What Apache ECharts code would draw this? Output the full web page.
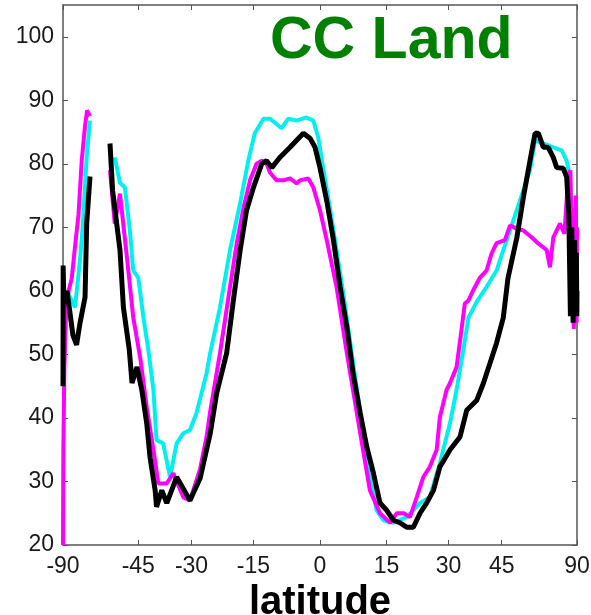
<!DOCTYPE html>
<html>
<head>
<meta charset="utf-8">
<script src="https://cdn.jsdelivr.net/npm/echarts@6/dist/echarts.min.js"></script>
<style>
    html, body { margin: 0; padding: 0; background: #fff; }
    #main { width: 591px; height: 615px; }
</style>
</head>
<body>
<div id="main"></div>
<script>
// tick labels
var xTicks = [-90, -45, -30, -15, 0, 15, 30, 45, 90];
var yTicks = [20, 30, 40, 50, 60, 70, 80, 90, 100];

// cyan curve (latitude, value), null = gap
var cyanLat = [-84, -80, -76.6, -72.4, -69, -67.3, -65.2, -63.5, -60, -53,
    -51.1, -49.4, -47.7, -46.6, -45, -43.4, -41.9, -40.4, -39.5, -37.6,
    -35.7, -33.9, -32.1, -30.4, -28.7, -26.2, -25.3, -22.9, -20.5, -18.1,
    -16.2, -14.7, -12.7, -11.2, -8.6, -7.1, -5.2, -3, -1.5, -0.4,
    0.7, 2.2, 3.7, 5.2, 6.7, 8.2, 9.7, 11.2, 12.7, 14.3,
    16.6, 19.7, 22.9, 25.3, 27.8, 30.4, 32.1, 33.9, 35.3, 37.6,
    40.4, 43.4, 45.5, 48.8, 52.3, 54.8, 56.8, 60.3, 65.2, 70.1,
    73.7, 76.6, 80, 85, 90];
var cyanVal = [58, 60, 59, 57.4, 65, 70.6, 81, 86.8, null, 81,
    77, 76.3, 69.5, 63.2, 62.1, 55.8, 50.7, 44.4, 36.5, 36,
    30.7, 36, 37.6, 38.1, 40.8, 47, 50.2, 57.4, 66.4, 73.8,
    80.5, 84.8, 87.1, 87.1, 85.6, 87.1, 86.8, 87.3, 86.8, 84.2,
    79.4, 73.1, 66.4, 59.6, 52.2, 44.8, 37.6, 31.3, 25.5, 23.9,
    23.5, 24.4, 26.6, 27.5, 32.9, 39.2, 44.4, 50.7, 55.8, 58.3,
    60.6, 63.2, 66.4, 71.1, 75.8, 79, 83.7, 83.2, 82.6, 82.1,
    80.5, 77.9, 70, 60, 57];

// magenta curve
var magentaLat = [-90, -87, -84, -81, -78, -75, -72.4, -70, -68, -66.1,
    -65, -63.5, -60, -54.8, -53, -51.1, -48.7, -46.6, -44.4, -42.4,
    -40.4, -39, -36.6, -34.8, -32.1, -30.4, -27.8, -26.2, -25.3, -22.9,
    -20.5, -18.9, -17.3, -15.8, -14.3, -13.1, -12, -11.2, -9.7, -8.2,
    -6.7, -5.2, -4.5, -2.6, -1.5, 0, 1.5, 3.7, 6, 9,
    11.2, 13.5, 15.8, 17.4, 19, 20.5, 22.1, 23.7, 25.3, 27,
    27.8, 29.5, 30.4, 32.1, 33.5, 34.3, 35.3, 36.6, 38.5, 40.4,
    41.9, 43.4, 46, 47.7, 50, 52.3, 55.5, 58, 60.2, 61.9,
    63.5, 65.2, 69, 72, 75, 77, 79, 81, 84, 87,
    90];
var magentaVal = [20, 35, 48, 57, 60, 62, 67, 72, 80.5, 86,
    88.4, 87.5, null, 79, 70.6, 75.3, 65.3, 55.8, 49.5, 41.7,
    35, 29.7, 29.7, 31.3, 27.5, 27, 32, 37, 41, 50.2,
    60.6, 67.5, 73.1, 77.4, 80, 80.5, 80, 78.6, 77.4, 77.4,
    77.7, 76.9, 77.4, 77.7, 76.3, 72.7, 68, 60.6, 50.2, 37.6,
    28.6, 25, 23.5, 25, 25, 24.4, 27.5, 30.7, 32.3, 35,
    40.1, 44.4, 45.5, 48, 54.3, 58, 58.5, 60.1, 62.1, 63.2,
    65.9, 67.5, 68, 70.3, 69.8, 69.5, 68.4, 67.5, 66.9, 66.4,
    63.7, 68.4, 70.6, 69, 78, 79, 60, 54, 75, 55,
    70];

// black curve
var blackLat = [-90, -88, -86, -83, -80, -77, -74, -71.3, -69, -66.1,
    -65.2, -63.5, -60, -54.8, -53.8, -51.1, -49.9, -47.9, -47, -45.4,
    -43.9, -42.4, -41.4, -39.9, -39.5, -38, -36.6, -33.9, -30.4, -27.8,
    -25.3, -23.7, -21.3, -19.7, -18.1, -16.6, -15, -13.1, -12, -10.8,
    -9, -6.7, -5.2, -3.7, -2.2, -1.1, 0, 1.5, 3, 4.5,
    6, 7.4, 9, 10.5, 12, 13.5, 15, 16.6, 18.1, 19.7,
    21.3, 22.9, 24.5, 26.2, 27.8, 30.4, 33, 34.8, 37.6, 39.5,
    41.4, 43.4, 45.5, 47, 50, 52.3, 54.8, 56.8, 58.2, 60.3,
    62.6, 65.2, 67.1, 71.2, 73.7, 75.5, 77, 78.5, 80, 82,
    84, 86, 88, 90];
var blackVal = [45, 64, 60, 58, 60, 57, 53, 51.5, 55, 59,
    70.6, 78, null, 83.2, 75.8, 66.4, 57.4, 50.7, 45.5, 48,
    44.4, 39.2, 33.8, 28.6, 26, 28.6, 26.6, 30.7, 27, 30.5,
    37.5, 43.9, 50.2, 58.5, 66.4, 72.7, 76.3, 80, 80.5, 79.4,
    81, 82.6, 83.7, 84.8, 84, 82.6, 79.4, 74.2, 68, 60.6,
    54.3, 47, 40.8, 35.4, 31.3, 26.6, 25.5, 23.9, 23.5, 22.8,
    22.8, 25, 26.6, 28.6, 32.3, 35, 37, 41.2, 42.8, 45.5,
    48.6, 51.8, 55.8, 62, 68.4, 74.7, 80.5, 84.8, 84.8, 82.6,
    82.6, 81, 79.4, 79.3, 77.9, 72, 56, 70, 55, 68,
    57, 66, 56, 60];

// x axis is area weighted: position = sin(latitude)
function sinLat(d) {
    return Math.sin(d * Math.PI / 180);
}
function toPoints(lat, val) {
    return lat.map(function (d, i) {
        return [sinLat(d), val[i] === null ? '-' : val[i]];
    });
}

var frameColor = '#555';
var labelFont = {
    color: '#1a1a1a',
    fontSize: 23,
    fontFamily: 'Liberation Sans, Arial, sans-serif'
};
var xTickPos = xTicks.map(sinLat);
var frameLine = { show: true, onZero: false, lineStyle: { color: frameColor, width: 1.5 } };

var myChart = echarts.init(document.getElementById('main'));

var option = {
    animation: false,
    backgroundColor: '#fff',
    title: {
        text: 'CC Land',
        left: 265,
        top: 7,
        textStyle: {
            color: '#008000',
            fontSize: 59,
            fontWeight: 'bold',
            fontFamily: 'Liberation Sans, Arial, sans-serif'
        }
    },
    grid: {
        left: 63,
        right: 14,
        top: 5,
        bottom: 70,
        containLabel: false,
        outerBoundsMode: 'none'
    },
    xAxis: [
        {
            type: 'value',
            position: 'bottom',
            min: -1,
            max: 1,
            axisLine: frameLine,
            axisTick: { show: true, inside: true, length: 5, customValues: xTickPos, lineStyle: { color: frameColor } },
            axisLabel: {
                customValues: xTickPos,
                margin: 10,
                color: labelFont.color,
                fontSize: labelFont.fontSize,
                fontFamily: labelFont.fontFamily,
                formatter: function (v) {
                    return Math.round(Math.asin(Math.max(-1, Math.min(1, v))) * 180 / Math.PI);
                }
            },
            splitLine: { show: false },
            name: 'latitude',
            nameLocation: 'middle',
            nameGap: 32,
            nameTextStyle: {
                color: '#000',
                fontSize: 40,
                fontWeight: 'bold',
                fontFamily: 'Liberation Sans, Arial, sans-serif'
            }
        },
        {
            type: 'value',
            position: 'top',
            min: -1,
            max: 1,
            axisLine: frameLine,
            axisTick: { show: true, inside: true, length: 5, customValues: xTickPos, lineStyle: { color: frameColor } },
            axisLabel: { show: false, customValues: xTickPos },
            splitLine: { show: false }
        }
    ],
    yAxis: [
        {
            type: 'value',
            position: 'left',
            min: 20,
            max: 105,
            axisLine: frameLine,
            axisTick: { show: true, inside: true, length: 5, customValues: yTicks, lineStyle: { color: frameColor } },
            axisLabel: {
                customValues: yTicks,
                margin: 9,
                color: labelFont.color,
                fontSize: labelFont.fontSize,
                fontFamily: labelFont.fontFamily
            },
            splitLine: { show: false }
        },
        {
            type: 'value',
            position: 'right',
            min: 20,
            max: 105,
            axisLine: frameLine,
            axisTick: { show: true, inside: true, length: 5, customValues: yTicks, lineStyle: { color: frameColor } },
            axisLabel: { show: false, customValues: yTicks },
            splitLine: { show: false }
        }
    ],
    series: [
        {
            name: 'cyan',
            type: 'line',
            showSymbol: false,
            connectNulls: false,
            lineStyle: { color: '#00f0f0', width: 4 },
            data: toPoints(cyanLat, cyanVal)
        },
        {
            name: 'magenta',
            type: 'line',
            showSymbol: false,
            connectNulls: false,
            lineStyle: { color: '#ff00ff', width: 4 },
            data: toPoints(magentaLat, magentaVal)
        },
        {
            name: 'black',
            type: 'line',
            showSymbol: false,
            connectNulls: false,
            lineStyle: { color: '#000', width: 5 },
            data: toPoints(blackLat, blackVal)
        }
    ]
};

myChart.setOption(option);
</script>
</body>
</html>
